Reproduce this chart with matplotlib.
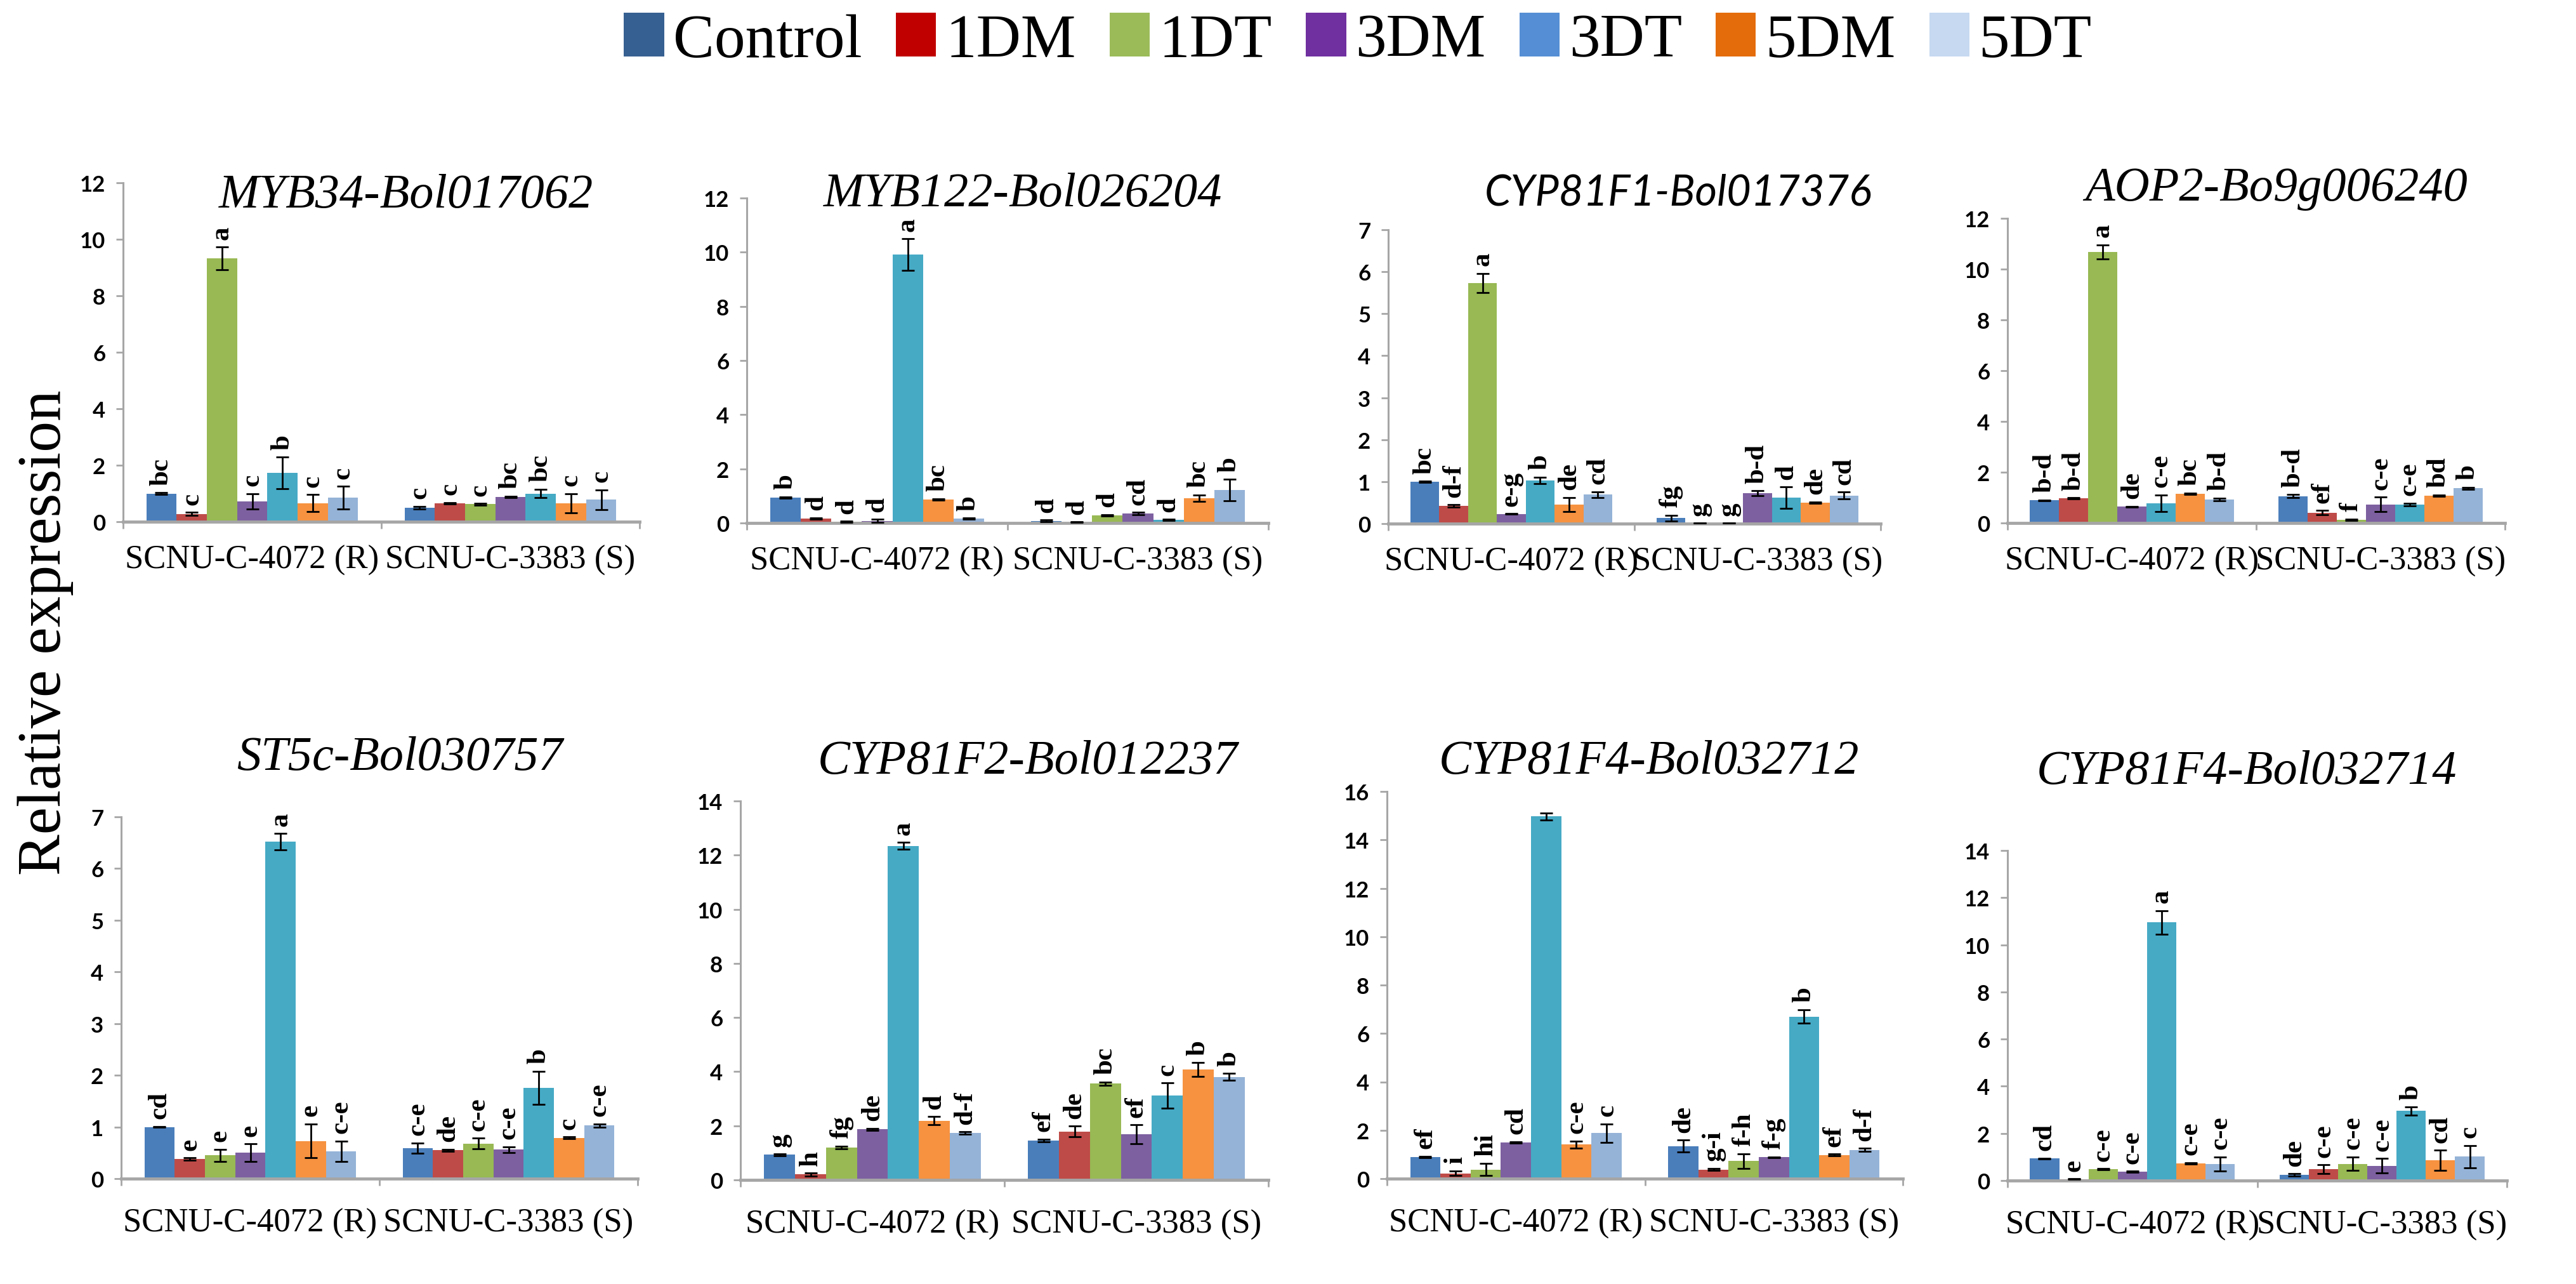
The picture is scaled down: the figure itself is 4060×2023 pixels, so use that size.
import numpy as np
import matplotlib
matplotlib.use("Agg")
import matplotlib.pyplot as plt
from matplotlib.patches import Patch

plt.rcParams["font.family"] = ["Liberation Serif", "DejaVu Serif"]

# treatments / cultivars
treatments = ["Control", "1DM", "1DT", "3DM", "3DT", "5DM", "5DT"]
cultivars = ["SCNU-C-4072 (R)", "SCNU-C-3383 (S)"]

# legend colours and bar colours (excel style)
legend_colors = ["#376092", "#C00000", "#9BBB59", "#7030A0", "#558ED5", "#E46C0A", "#C6D9F1"]
bar_colors = ["#4A7EBB", "#BE4B48", "#98B954", "#7D60A0", "#46AAC5", "#F69240", "#95B3D7"]

# ---- data: mean, error, letters for R and S cultivar ----
myb34_r = [1.0, 0.28, 9.32, 0.72, 1.73, 0.66, 0.85]
myb34_r_err = [0.03, 0.05, 0.4, 0.28, 0.56, 0.3, 0.4]
myb34_s = [0.5, 0.65, 0.62, 0.88, 1.0, 0.66, 0.78]
myb34_s_err = [0.05, 0.03, 0.03, 0.03, 0.15, 0.34, 0.35]
myb34_r_let = ["bc", "c", "a", "c", "b", "c", "c"]
myb34_s_let = ["c", "c", "c", "bc", "bc", "c", "c"]

myb122_r = [0.94, 0.16, 0.05, 0.08, 9.91, 0.87, 0.16]
myb122_r_err = [0.03, 0.03, 0.02, 0.05, 0.58, 0.03, 0.02]
myb122_s = [0.08, 0.03, 0.28, 0.35, 0.12, 0.92, 1.22]
myb122_s_err = [0.03, 0.01, 0.03, 0.04, 0.02, 0.12, 0.39]
myb122_r_let = ["b", "d", "d", "d", "a", "bc", "b"]
myb122_s_let = ["d", "d", "d", "cd", "d", "bc", "b"]

cyp81f1_r = [1.0, 0.42, 5.73, 0.23, 1.03, 0.45, 0.69]
cyp81f1_r_err = [0.01, 0.03, 0.23, 0.01, 0.08, 0.17, 0.07]
cyp81f1_s = [0.13, 0.01, 0.01, 0.72, 0.62, 0.5, 0.67]
cyp81f1_s_err = [0.07, 0.0, 0.0, 0.06, 0.25, 0.02, 0.08]
cyp81f1_r_let = ["bc", "d-f", "a", "e-g", "b", "de", "cd"]
cyp81f1_s_let = ["fg", "g", "g", "b-d", "d", "de", "cd"]

aop2_r = [0.89, 0.97, 10.68, 0.64, 0.78, 1.15, 0.93]
aop2_r_err = [0.02, 0.02, 0.28, 0.02, 0.33, 0.03, 0.05]
aop2_s = [1.06, 0.41, 0.13, 0.73, 0.73, 1.08, 1.37]
aop2_s_err = [0.06, 0.08, 0.02, 0.29, 0.05, 0.02, 0.04]
aop2_r_let = ["b-d", "b-d", "a", "de", "c-e", "bc", "b-d"]
aop2_s_let = ["b-d", "ef", "f", "c-e", "c-e", "bd", "b"]

st5c_r = [1.0, 0.38, 0.45, 0.5, 6.52, 0.73, 0.53]
st5c_r_err = [0.01, 0.02, 0.12, 0.17, 0.16, 0.33, 0.2]
st5c_s = [0.59, 0.55, 0.68, 0.56, 1.76, 0.79, 1.03]
st5c_s_err = [0.1, 0.02, 0.1, 0.06, 0.32, 0.02, 0.03]
st5c_r_let = ["cd", "e", "e", "e", "a", "e", "c-e"]
st5c_s_let = ["c-e", "de", "c-e", "c-e", "b", "c", "c-e"]

cyp81f2_r = [0.93, 0.2, 1.2, 1.87, 12.34, 2.19, 1.74]
cyp81f2_r_err = [0.03, 0.05, 0.05, 0.04, 0.13, 0.15, 0.04]
cyp81f2_s = [1.46, 1.79, 3.56, 1.68, 3.12, 4.08, 3.81]
cyp81f2_s_err = [0.05, 0.2, 0.06, 0.35, 0.46, 0.25, 0.12]
cyp81f2_r_let = ["g", "h", "fg", "de", "a", "d", "d-f"]
cyp81f2_s_let = ["ef", "de", "bc", "ef", "c", "b", "b"]

cyp81f4a_r = [0.9, 0.22, 0.38, 1.5, 14.97, 1.41, 1.88]
cyp81f4a_r_err = [0.03, 0.1, 0.25, 0.03, 0.15, 0.15, 0.38]
cyp81f4a_s = [1.34, 0.38, 0.73, 0.88, 6.7, 0.98, 1.19]
cyp81f4a_s_err = [0.25, 0.04, 0.3, 0.02, 0.28, 0.03, 0.06]
cyp81f4a_r_let = ["ef", "i", "hi", "cd", "", "c-e", "c"]
cyp81f4a_s_let = ["de", "g-i", "f-h", "f-g", "b", "ef", "d-f"]

cyp81f4b_r = [0.93, 0.06, 0.48, 0.37, 10.95, 0.73, 0.7]
cyp81f4b_r_err = [0.02, 0.01, 0.03, 0.03, 0.5, 0.03, 0.3]
cyp81f4b_s = [0.24, 0.48, 0.71, 0.63, 2.95, 0.86, 1.02]
cyp81f4b_s_err = [0.05, 0.18, 0.29, 0.3, 0.17, 0.42, 0.47]
cyp81f4b_r_let = ["cd", "e", "c-e", "c-e", "a", "c-e", "c-e"]
cyp81f4b_s_let = ["de", "c-e", "c-e", "c-e", "b", "cd", "c"]

gene_titles = ["MYB34-Bol017062", "MYB122-Bol026204", "CYP81F1-Bol017376", "AOP2-Bo9g006240",
               "ST5c-Bol030757", "CYP81F2-Bol012237", "CYP81F4-Bol032712", "CYP81F4-Bol032714"]
y_max = [12, 12, 7, 12, 7, 14, 16, 14]
y_step = [2, 2, 1, 2, 1, 2, 2, 2]

panels = [
    (myb34_r, myb34_r_err, myb34_s, myb34_s_err, myb34_r_let, myb34_s_let),
    (myb122_r, myb122_r_err, myb122_s, myb122_s_err, myb122_r_let, myb122_s_let),
    (cyp81f1_r, cyp81f1_r_err, cyp81f1_s, cyp81f1_s_err, cyp81f1_r_let, cyp81f1_s_let),
    (aop2_r, aop2_r_err, aop2_s, aop2_s_err, aop2_r_let, aop2_s_let),
    (st5c_r, st5c_r_err, st5c_s, st5c_s_err, st5c_r_let, st5c_s_let),
    (cyp81f2_r, cyp81f2_r_err, cyp81f2_s, cyp81f2_s_err, cyp81f2_r_let, cyp81f2_s_let),
    (cyp81f4a_r, cyp81f4a_r_err, cyp81f4a_s, cyp81f4a_s_err, cyp81f4a_r_let, cyp81f4a_s_let),
    (cyp81f4b_r, cyp81f4b_r_err, cyp81f4b_s, cyp81f4b_s_err, cyp81f4b_r_let, cyp81f4b_s_let),
]

# ---- layout, in pixels of the 4060 x 2024 picture (x0, ytop, x1, ybottom) ----
W, H = 4060, 2024
axes_px = [(194, 289, 1008, 823), (1177, 313, 1999, 825), (2188, 363, 2964, 826), (3164, 345, 3948, 825),
           (191, 1288, 1005, 1858), (1167, 1263, 1999, 1860), (2186, 1248, 2999, 1858), (3164, 1341, 3951, 1861)]
title_px = [(640, 308), (1612, 307), (2645, 305), (3588, 298),
            (630, 1195), (1620, 1201), (2599, 1200), (3541, 1217)]

axis_gray = "#A6A6A6"
bar_w = 0.82 / 7

fig = plt.figure(figsize=(W / 100, H / 100), dpi=100)

for k, (data, box) in enumerate(zip(panels, axes_px)):
    r, r_err, s, s_err, r_let, s_let = data
    x0, yt, x1, yb = box
    ax = fig.add_axes([x0 / W, 1 - yb / H, (x1 - x0) / W, (yb - yt) / H])
    for i in range(len(treatments)):
        xs = np.arange(2) + (i - 3) * bar_w
        vals = [r[i], s[i]]
        errs = [r_err[i], s_err[i]]
        ax.bar(xs, vals, bar_w, color=bar_colors[i], zorder=2,
               yerr=errs, capsize=7,
               error_kw=dict(ecolor="black", elinewidth=2, capthick=2, zorder=3))
        for x, v, e, lab in zip(xs, vals, errs, [r_let[i], s_let[i]]):
            ax.annotate(lab, xy=(x, v + e), xytext=(0, 9), textcoords="offset points",
                        rotation=90, ha="center", va="bottom", fontsize=31, fontweight="bold")
    ax.set_xlim(-0.5, 1.5)
    ax.set_ylim(0, y_max[k])
    ticks = np.arange(0, y_max[k] + 0.01, y_step[k])
    ax.set_yticks(ticks)
    ax.set_yticklabels([str(int(t)) for t in ticks], fontfamily="Lato", fontweight="bold", fontsize=25)
    ax.tick_params(axis="y", direction="out", length=8, width=2, color=axis_gray, pad=12)
    ax.set_xticks([0, 1])
    ax.set_xticklabels(cultivars, fontsize=38)
    ax.set_xticks([-0.5, 0.5, 1.5], minor=True)
    ax.tick_params(axis="x", which="major", length=0, pad=26 if k < 4 else 33)
    ax.tick_params(axis="x", which="minor", direction="out", length=8, width=2, color=axis_gray)
    for side in ["top", "right"]:
        ax.spines[side].set_visible(False)
    ax.spines["left"].set_color(axis_gray)
    ax.spines["left"].set_linewidth(2.2)
    ax.spines["bottom"].set_color(axis_gray)
    ax.spines["bottom"].set_linewidth(3.5)
    ax.set_facecolor("none")

# gene titles, with white box like the text boxes in the original
for k, (name, (cx, cy)) in enumerate(zip(gene_titles, title_px)):
    if k == 2:
        fig.text(cx / W, 1 - cy / H, name, ha="center", va="center", fontsize=48,
                 style="italic", family=["Lato", "DejaVu Sans"])
    else:
        fig.text(cx / W, 1 - cy / H, name, ha="center", va="center", fontsize=55,
                 style="italic", bbox=dict(facecolor="white", edgecolor="none", pad=2))

# common y label
fig.text(72 / W, 1 - 997 / H, "Relative expression", rotation=90, ha="center", va="center", fontsize=70)

# legend on top
handles = [Patch(facecolor=c, edgecolor="none") for c in legend_colors]
fig.legend(handles, treatments, loc="center", bbox_to_anchor=(2140 / W, 1 - 66 / H), ncol=7,
           frameon=False, fontsize=70, handlelength=0.65, handleheight=0.7,
           handletextpad=0.15, columnspacing=0.55, borderaxespad=0)

fig.savefig("out.png", dpi=100, facecolor="white")
